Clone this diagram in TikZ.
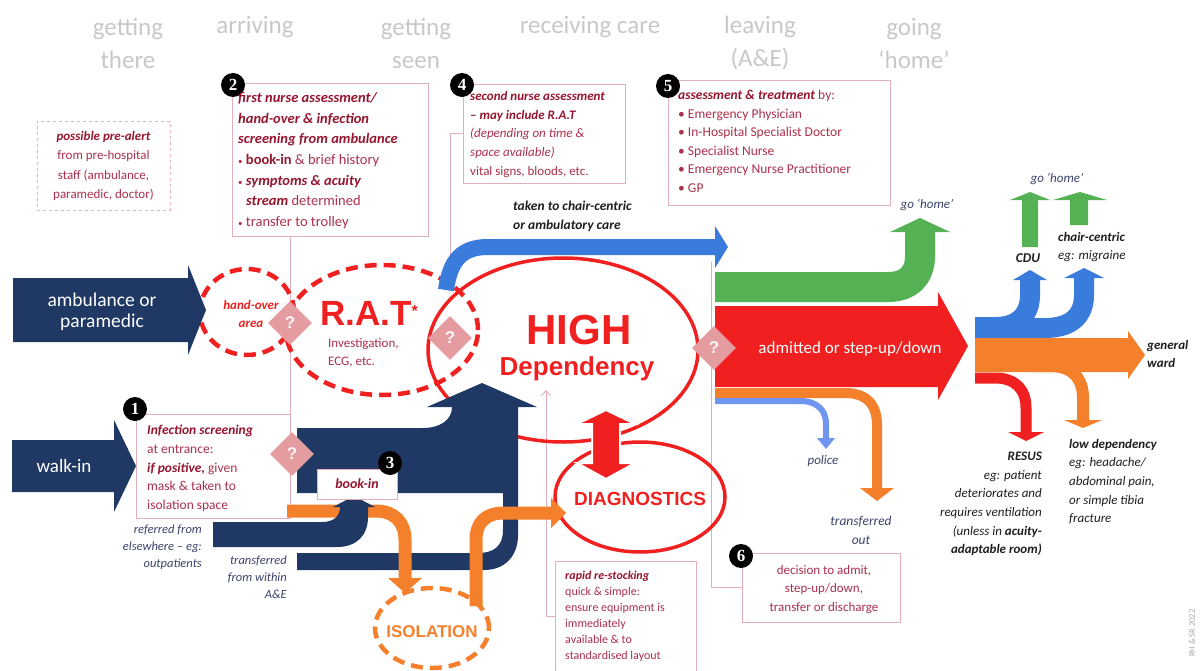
\documentclass[tikz,border=0pt]{standalone}
\usepackage{fontspec}
\setmainfont{Carlito}
\newfontfamily\heavy{Liberation Sans}
\newfontfamily\badgefont{Liberation Serif}
\usetikzlibrary{shapes.geometric,arrows.meta}

\definecolor{navy}{RGB}{31,56,100}
\definecolor{flowblue}{RGB}{58,124,220}
\definecolor{paleblue}{RGB}{110,150,240}
\definecolor{flowgreen}{RGB}{84,178,84}
\definecolor{flowred}{RGB}{240,32,32}
\definecolor{floworange}{RGB}{244,128,44}
\definecolor{hdrgray}{RGB}{200,200,200}
\definecolor{boxline}{RGB}{226,176,186}
\definecolor{darkred}{RGB}{150,22,48}
\definecolor{textred}{RGB}{172,48,76}
\definecolor{qpink}{RGB}{228,156,160}
\definecolor{slate}{RGB}{58,68,108}
\definecolor{ink}{RGB}{30,30,30}

\newcommand{\fsz}[2]{\fontsize{#1}{#2}\selectfont}
\newcommand{\bi}[1]{\textbf{\textit{#1}}}
\newcommand{\dotitem}{{\fsz{9}{9}\textbullet}\ }

\begin{document}
\begin{tikzpicture}[x=1pt,y=-1pt,
  hdr/.style={text=hdrgray, font=\fsz{25}{33}, align=center, inner sep=0},
  frame/.style={rectangle, draw=boxline, line width=0.9pt, fill=white, inner sep=0},
  conn/.style={draw=boxline, line width=0.9pt},
  badge/.style={circle, fill=black, text=white, inner sep=0, minimum size=24pt,
    font=\badgefont\bfseries\fsz{17}{17}},
  qd/.style={diamond, fill=qpink, minimum size=44pt, inner sep=0, text=white!92!qpink,
    font=\heavy\bfseries\fsz{17}{17}},
  zone/.style={ellipse, draw=flowred, line width=4.5pt, dash pattern=on 12pt off 7pt, inner sep=0},
  hub/.style={ellipse, draw=flowred, line width=3.5pt, inner sep=0},
  boxtxt/.style={inner sep=0, text=textred, align=left},
  flowtxt/.style={inner sep=0, text=slate, font=\itshape\fsz{12.5}{17}},
  outtxt/.style={inner sep=0, text=ink, font=\itshape\fsz{13}{18.6}}
]
\useasboundingbox (0,0) rectangle (1201,671);

% ---- stage headings ----
\node[hdr] (h1) at (128,43) {getting\\there};
\node[hdr] (h2) at (255,27) {arriving};
\node[hdr] (h3) at (416,43) {getting\\seen};
\node[hdr] (h4) at (590,27) {receiving care};
\node[hdr] (h5) at (760,43) {leaving\\(A\&E)};
\node[hdr] (h6) at (914,43) {going\\`home'};

% ---- note boxes ----
\node[frame, dashed, minimum width=133pt, minimum height=89pt] (pre) at (103.5,165.5) {};
\node[frame, minimum width=196pt, minimum height=153pt] (b2) at (330,159.5) {};
\node[frame, minimum width=162pt, minimum height=99pt] (b4) at (544,133.5) {};
\node[frame, minimum width=222pt, minimum height=125pt] (b5) at (779,142.5) {};
\node[frame, minimum width=154pt, minimum height=104pt] (b1) at (213,466) {};
\node[frame, minimum width=158pt, minimum height=69pt] (b6) at (821,587.5) {};
\node[frame, minimum width=141pt, minimum height=110pt] (rs) at (625.5,616) {};

% ---- thin leader lines ----
\coordinate (c4) at (450,282);
\coordinate (c6) at (711,262);
\coordinate (c7) at (546,390);
\draw[conn] (b1.north east |- b2.south) -- (b1.north east);
\draw[conn] (b4.west) -| (c4);
\draw[conn] (b6.west) -| (c6);
\draw[conn, -{Straight Barb[length=5pt,width=9pt]}] (rs.west) -| (c7);

% ---- zones ----
\node[zone, minimum width=94pt, minimum height=86pt] (ho) at (247,312) {};
\node[zone, minimum width=192pt, minimum height=130pt] (rat) at (382,330) {};
\node[hub, minimum width=270pt, minimum height=184pt] (high) at (563,350) {};
\node[hub, minimum width=170pt, minimum height=110pt] (diag) at (640,497) {};
\node[zone, draw=floworange, minimum width=114pt, minimum height=80pt] (iso) at (432,628) {};

% ---- arrivals ----
\fill[navy] (13,278) -- (188,278) -- (188,265) -- (206,310) -- (188,355) -- (188,342) -- (13,342) -- cycle;
\fill[navy] (12,440) -- (114,440) -- (114,420) -- (136,466) -- (114,512) -- (114,492) -- (12,492) -- cycle;

% main walk-in stream rising into high dependency, with the return loop below
\fill[navy] (297,428) -- (423,428) .. controls (440,428) and (452,420) .. (452,407)
  -- (427,407) -- (482,383) -- (537,407) -- (518,407) -- (518,535)
  .. controls (518,556) and (505,570) .. (484,570) -- (297,570) -- (297,553) -- (478,553)
  .. controls (494,553) and (503,546) .. (503,530) -- (503,493) -- (297,493) -- cycle;

% positive screening to isolation
\draw[floworange, line width=13pt] (287,511) -- (376,511) .. controls (394,511) and (405,522) .. (405,540) -- (405,579);
\fill[floworange] (388,578) -- (422,578) -- (405,593) -- cycle;

% referred patients to book-in
\fill[navy] (213,522) -- (322,522) .. controls (334,522) and (340,516) .. (340,507) -- (333,507)
  -- (354,496) -- (375,507) -- (368,507) -- (368,517) .. controls (368,536) and (356,547) .. (337,547)
  -- (213,547) -- cycle;

% isolation to diagnostics
\draw[floworange, line width=13pt] (476,606) -- (476,540) .. controls (476,522) and (486,513) .. (504,513) -- (552,513);
\fill[floworange] (551,498) -- (551,528) -- (566,513) -- cycle;

% ---- leaving A&E ----
\draw[flowgreen, line width=30pt] (715,287) -- (888,287) .. controls (908,287) and (920,276) .. (920,256) -- (920,231);
\fill[flowgreen] (890,232) -- (950,232) -- (920,218) -- cycle;

\fill[flowred] (715,306) -- (938,306) -- (938,292) -- (968,346) -- (938,400) -- (938,387) -- (715,387) -- cycle;

\draw[floworange, line width=10pt] (715,393) -- (845,393) .. controls (867,393) and (877,405) .. (877,425) -- (877,489);
\fill[floworange] (860,488) -- (894,488) -- (877,501) -- cycle;

\draw[paleblue, line width=6pt] (715,401) -- (800,401) .. controls (817,401) and (826,410) .. (826,424) -- (826,439);
\fill[paleblue] (817,438) -- (835,438) -- (826,449) -- cycle;

% ---- destinations after admission ----
\draw[flowblue, line width=20pt] (975,327) -- (995,327) .. controls (1020,327) and (1030,313) .. (1030,295) -- (1030,279);
\fill[flowblue] (1013,280) -- (1047,280) -- (1030,270) -- cycle;
\draw[flowblue, line width=20pt] (975,328) -- (1045,328) .. controls (1072,328) and (1084,315) .. (1084,295) -- (1084,277);
\fill[flowblue] (1064,278) -- (1104,278) -- (1084,268) -- cycle;

\fill[flowgreen] (1022,247) -- (1022,200) -- (1010,200) -- (1030,192) -- (1050,200) -- (1038,200) -- (1038,247) -- cycle;
\fill[flowgreen] (1070,225) -- (1070,200) -- (1053,200) -- (1080,192) -- (1107,200) -- (1088,200) -- (1088,225) -- cycle;

\fill[floworange] (975,338) -- (1128,338) -- (1128,331) -- (1145,355) -- (1128,379) -- (1128,372) -- (975,372) -- cycle;
\draw[floworange, line width=12pt] (1030,366) -- (1050,366) .. controls (1072,366) and (1083,378) .. (1083,398) -- (1083,421);
\fill[floworange] (1064,420) -- (1102,420) -- (1083,428) -- cycle;

\draw[flowred, line width=11pt] (975,378) -- (995,378) .. controls (1016,378) and (1026,390) .. (1026,408) -- (1026,433);
\fill[flowred] (1008,432) -- (1044,432) -- (1026,441) -- cycle;

% chair-centric route out of R.A.T
\draw[flowblue, line width=16pt] (446,290) .. controls (450,260) and (462,247) .. (488,247) -- (716,247);
\fill[flowblue] (715,226) -- (715,268) -- (728,247) -- cycle;

% high dependency <-> diagnostics
\filldraw[fill=flowred, draw=white, line width=2pt] (606,410) -- (635,424) -- (620,424) -- (620,463)
  -- (635,463) -- (606,479) -- (577,463) -- (592,463) -- (592,424) -- (577,424) -- cycle;

% ---- decision points ----
\node[qd] (q1) at (290,323) {?};
\node[qd] (q2) at (450,338) {?};
\node[qd] (q3) at (714,348) {?};
\node[qd] (q4) at (292,454) {?};

\node[frame, minimum width=80pt, minimum height=30pt, text=darkred, font=\bfseries\itshape\fsz{14}{16}] (bk) at (357,484) {book-in};

% ---- numbered steps ----
\node[badge] (n1) at (135,409) {1};
\node[badge] (n2) at (233,85) {2};
\node[badge] (n3) at (390,463) {3};
\node[badge] (n4) at (462,85) {4};
\node[badge] (n5) at (668,86) {5};
\node[badge] (n6) at (741,556) {6};

% ---- box texts ----
\node[boxtxt, anchor=north, align=center, font=\fsz{13}{19.5}] (tpre) at (103.5,131)
  {\textcolor{darkred}{\bi{possible pre-alert}}\\from pre-hospital\\staff (ambulance,\\paramedic, doctor)};
\node[boxtxt, anchor=north west, font=\fsz{14.5}{20.7}] (t2) at (238,92)
  {\textcolor{darkred}{\bi{first nurse assessment/}}\\\textcolor{darkred}{\bi{hand-over \& infection}}\\\textcolor{darkred}{\bi{screening from ambulance}}\\
   \dotitem\textcolor{darkred}{\textbf{book-in}} \& brief history\\\dotitem\textcolor{darkred}{\bi{symptoms \& acuity}}\\
   \hspace*{8pt}\textcolor{darkred}{\bi{stream}} determined\\\dotitem transfer to trolley};
\node[boxtxt, anchor=north west, font=\fsz{13}{18.75}] (t4) at (470,91)
  {\textcolor{darkred}{\bi{second nurse assessment}}\\\textcolor{darkred}{\bi{-- may include R.A.T}}\\\textit{(depending on time \&}\\\textit{space available)}\\vital signs, bloods, etc.};
\node[boxtxt, anchor=north west, font=\fsz{13.5}{18.6}] (t5) at (678,90)
  {\textcolor{darkred}{\bi{assessment \& treatment}} by:\\\textbullet\ Emergency Physician\\\textbullet\ In-Hospital Specialist Doctor\\\textbullet\ Specialist Nurse\\\textbullet\ Emergency Nurse Practitioner\\\textbullet\ GP};
\node[boxtxt, anchor=north west, font=\fsz{13.5}{18.75}] (t1) at (147,425)
  {\textcolor{darkred}{\bi{Infection screening}}\\at entrance:\\\textcolor{darkred}{\bi{if positive,}} given\\mask \& taken to\\isolation space};
\node[boxtxt, anchor=north, align=center, font=\fsz{13}{18.5}] (t6) at (824,565)
  {decision to admit,\\step-up/down,\\transfer or discharge};
\node[boxtxt, anchor=north west, font=\fsz{12}{16}] (trs) at (565,571)
  {\textcolor{darkred}{\bi{rapid re-stocking}}\\quick \& simple:\\ensure equipment is\\immediately\\available \& to\\standardised layout};

% ---- zone labels ----
\node[inner sep=0, text=flowred, align=center, font=\bfseries\itshape\fsz{13}{18}] (tho) at (251,314) {hand-over\\area};
\node[inner sep=0, text=flowred, font=\heavy\bfseries\fsz{35}{35}] (trat) at (369,313) {R.A.T\raisebox{9pt}{\fsz{16}{16}*}};
\node[boxtxt, anchor=north west, font=\fsz{13}{18}] (tinv) at (328,338) {Investigation,\\ECG, etc.};
\node[inner sep=0, text=flowred, font=\heavy\bfseries\fsz{42}{42}] (thigh) at (579,330) {HIGH};
\node[inner sep=0, text=flowred, font=\heavy\bfseries\fsz{26}{26}] (tdep) at (577,369) {Dependency};
\node[inner sep=0, text=flowred, font=\heavy\bfseries\fsz{19}{19}] (tdiag) at (640,499) {DIAGNOSTICS};
\node[inner sep=0, text=floworange, font=\heavy\bfseries\fsz{17}{17}] (tiso) at (432,632) {ISOLATION};

% ---- flow labels ----
\node[inner sep=0, text=white, align=center, font=\fsz{19.5}{21}] (tamb) at (102,312) {ambulance or\\paramedic};
\node[inner sep=0, text=white, font=\fsz{19}{20}] (twalk) at (64,466) {walk-in};
\node[flowtxt, anchor=north east, align=right] (tref) at (202,525) {referred from\\elsewhere -- eg:\\outpatients};
\node[flowtxt, anchor=north east, align=right] (ttrans) at (287,556) {transferred\\from within\\A\&E};
\node[inner sep=0, anchor=north west, align=left, text=ink, font=\bfseries\itshape\fsz{13.5}{19}] (tchair) at (513,201) {taken to chair-centric\\or ambulatory care};
\node[inner sep=0, text=white, font=\fsz{17}{20}] (tadm) at (850,349) {admitted or step-up/down};
\node[flowtxt, font=\itshape\fsz{13}{17}] (tgo1) at (927,205) {go `home'};
\node[flowtxt, font=\itshape\fsz{13}{17}] (tgo2) at (1057,179) {go `home'};
\node[flowtxt, font=\itshape\fsz{13}{17}] (tpol) at (823,461) {police};
\node[flowtxt, align=center, font=\itshape\fsz{13.5}{19}] (tout) at (861,530) {transferred\\out};
\node[inner sep=0, text=ink, font=\bfseries\itshape\fsz{13.5}{16}] (tcdu) at (1028,258) {CDU};
\node[outtxt, anchor=north west, align=left] (tcc) at (1058,232) {\textbf{chair-centric}\\eg: migraine};
\node[outtxt, anchor=north west, align=left] (tgw) at (1147,340) {\textbf{general}\\\textbf{ward}};
\node[outtxt, anchor=north east, align=right] (tres) at (1042,452)
  {\textbf{RESUS}\\eg: patient\\deteriorates and\\requires ventilation\\(unless in \textbf{acuity-}\\\textbf{adaptable room)}};
\node[outtxt, anchor=north west, align=left] (tlow) at (1069,439)
  {\textbf{low dependency}\\eg: headache/\\abdominal pain,\\or simple tibia\\fracture};

\node[inner sep=0, rotate=90, text=black!35, font=\fsz{8.5}{9}] (tcred) at (1192,633) {RH \& SR 2022};
\end{tikzpicture}
\end{document}
